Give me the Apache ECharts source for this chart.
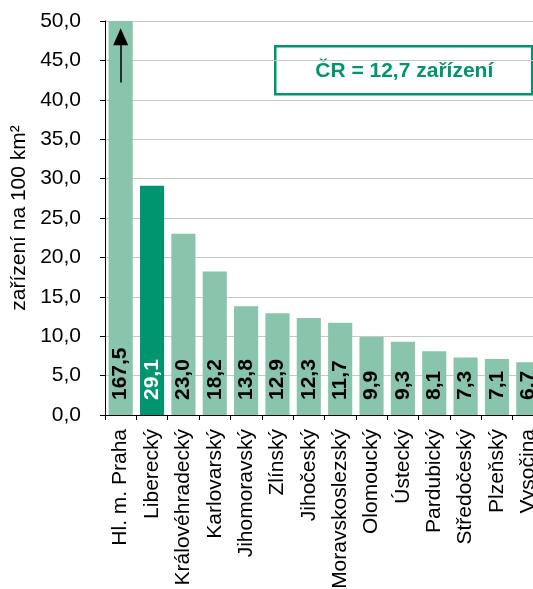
<!DOCTYPE html>
<html>
<head>
<meta charset="utf-8">
<script src="https://cdn.jsdelivr.net/npm/echarts@6/dist/echarts.min.js"></script>
<style>
  html, body { margin: 0; padding: 0; background: #fff; }
  #chart { width: 533px; height: 589px; }
</style>
</head>
<body>
<div id="chart"></div>
<script>
var kraje = ['Hl. m. Praha', 'Liberecký', 'Královéhradecký', 'Karlovarský', 'Jihomoravský', 'Zlínský', 'Jihočeský',
    'Moravskoslezský', 'Olomoucký', 'Ústecký', 'Pardubický', 'Středočeský', 'Plzeňský', 'Vysočina'];
var hodnoty = [167.5, 29.1, 23.0, 18.2, 13.8, 12.9, 12.3, 11.7, 9.9, 9.3, 8.1, 7.3, 7.1, 6.7];
var zvyrazneny = 'Liberecký';
var prumerCR = '12,7';

var svetla = '#89c4ad', tmava = '#00956e';
var font = 'Liberation Sans, Arial, sans-serif';

var fmt = function (v) { return v.toFixed(1).replace('.', ','); };

var data = hodnoty.map(function (v, i) {
    var hi = kraje[i] == zvyrazneny;
    return {
        value: v,
        itemStyle: { color: hi ? tmava : svetla },
        label: { color: hi ? '#fff' : '#000' }
    };
});

var myChart = echarts.init(document.getElementById('chart'));
var option = {
    animation: false,
    grid: { left: 105, top: 21, width: 439, height: 394, containLabel: false, outerBoundsMode: 'none' },
    xAxis: {
        type: 'category',
        data: kraje,
        axisLine: { lineStyle: { color: '#000', width: 1 } },
        axisTick: { show: true, length: 5, lineStyle: { color: '#000' } },
        axisLabel: { rotate: 90, interval: 0, margin: 14, color: '#000', fontSize: 21, fontFamily: font }
    },
    yAxis: {
        type: 'value',
        min: 0, max: 50, interval: 5,
        name: 'zařízení na 100 km²',
        nameLocation: 'middle',
        nameGap: 73,
        nameTextStyle: { color: '#000', fontSize: 21, fontFamily: font },
        axisLine: { show: true, lineStyle: { color: '#000', width: 1 } },
        axisTick: { show: true, length: 5, lineStyle: { color: '#000' } },
        splitLine: { lineStyle: { color: '#c8c8c8', width: 1 } },
        axisLabel: { formatter: fmt, margin: 24, color: '#000', fontSize: 21, fontFamily: font }
    },
    graphic: [{
        type: 'group',
        left: 274, top: 45,
        children: [
            { type: 'rect', shape: { x: 0, y: 0, width: 257, height: 48 },
              style: { fill: '#fff', stroke: tmava, lineWidth: 2.5 } },
            { type: 'text', x: 129, y: 25,
              style: { text: 'ČR = ' + prumerCR + ' zařízení', fill: tmava, font: 'bold 21px ' + font,
                       align: 'center', verticalAlign: 'middle' } }
        ]
    }],
    series: [{
        type: 'bar',
        data: data,
        barCategoryGap: '23%',
        clip: true,
        label: {
            show: true,
            position: 'insideBottom',
            rotate: 90,
            align: 'left',
            verticalAlign: 'middle',
            distance: 15,
            fontSize: 21,
            fontWeight: 'bold',
            fontFamily: font,
            formatter: function (p) { return fmt(p.value); }
        },
        markLine: {
            silent: true,
            symbol: ['none', 'triangle'],
            symbolSize: [15, 17],
            label: { show: false },
            lineStyle: { color: '#000', width: 1.5, type: 'solid' },
            data: [[{ coord: [kraje[0], 42.2] }, { coord: [kraje[0], 48.0] }]]
        }
    }]
};
myChart.setOption(option);
</script>
</body>
</html>
